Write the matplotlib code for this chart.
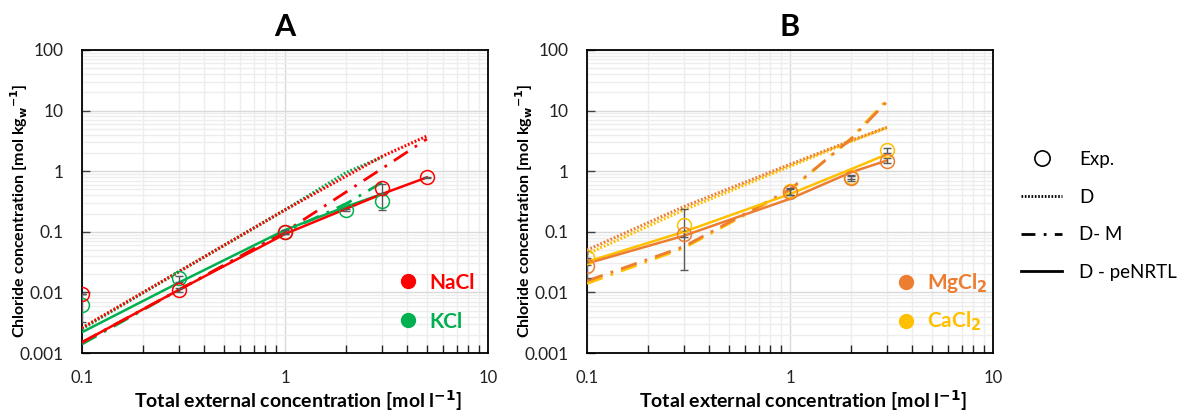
import matplotlib
matplotlib.use("Agg")
import matplotlib.pyplot as plt
from matplotlib.lines import Line2D
from matplotlib.ticker import LogLocator, NullFormatter, FixedLocator, FixedFormatter

plt.rcParams['font.family'] = ['Lato', 'DejaVu Sans']

# ---------------- data ----------------
# Panel A
x_nacl = [0.1, 0.3, 1, 3, 5]
nacl_exp = [0.0093, 0.011, 0.10, 0.52, 0.79]
nacl_err = [0.0, 0.001, 0.008, 0.09, 0.02]
nacl_D = [0.0026, 0.022, 0.23, 1.75, 3.8]
nacl_DM = [0.0015, 0.011, 0.10, 1.1, 3.4]
nacl_pe = [0.0015, 0.011, 0.092, 0.42, 0.79]

x_kcl = [0.1, 0.3, 1, 2, 3]
kcl_exp = [0.0063, 0.017, 0.10, 0.23, 0.32]
kcl_err = [0.003, 0.002, 0.008, 0.01, 0.09]
kcl_D = [0.0025, 0.022, 0.23, 0.95, 1.7]
kcl_DM = [0.0014, 0.011, 0.10, 0.29, 0.65]
kcl_pe = [0.0022, 0.0145, 0.107, 0.26, 0.42]

# Panel B
x_b = [0.1, 0.3, 1, 2, 3]
mg_exp = [0.027, 0.092, 0.45, 0.77, 1.5]
mg_err = [0.01, 0.01, 0.05, 0.07, 0.15]
mg_D = [0.050, 0.26, 1.3, 3.2, 5.3]
mg_DM = [0.0155, 0.057, 0.50, 3.4, 14.0]
mg_pe = [0.030, 0.086, 0.35, 0.96, 1.5]

ca_exp = [0.038, 0.13, 0.47, 0.80, 2.2]
ca_err = [0.01, 0.107, 0.06, 0.07, 0.2]
ca_D = [0.043, 0.23, 1.2, 3.1, 5.2]
ca_DM = [0.014, 0.054, 0.48, 3.5, 15.0]
ca_pe = [0.032, 0.10, 0.42, 1.08, 1.9]

y_ticks = [0.001, 0.01, 0.1, 1, 10, 100]
y_ticklabels = ['0.001', '0.01', '0.1', '1', '10', '100']
x_ticks = [0.1, 1, 10]
x_ticklabels = ['0.1', '1', '10']

RED = '#FF0000'
GREEN = '#00B050'
ORANGE = '#ED7D31'
YELLOW = '#FFC000'
ERRC = '#595959'

fig = plt.figure(figsize=(11.82, 4.11), dpi=100)
axA = fig.add_axes([82/1182, 1-353/411, (488-82)/1182, (353-50)/411])
axB = fig.add_axes([587/1182, 1-353/411, (993-587)/1182, (353-50)/411])


def style_axis(ax, title):
    ax.set_xscale('log')
    ax.set_yscale('log')
    ax.set_xlim(0.1, 10)
    ax.set_ylim(0.001, 100)
    ax.grid(True, which='major', color='#D9D9D9', lw=1.0, zorder=0)
    ax.grid(True, which='minor', color='#EDEDED', lw=1.0, zorder=0)
    ax.set_axisbelow(True)
    ax.yaxis.set_major_locator(FixedLocator(y_ticks))
    ax.yaxis.set_major_formatter(FixedFormatter(y_ticklabels))
    ax.xaxis.set_major_locator(FixedLocator(x_ticks))
    ax.xaxis.set_major_formatter(FixedFormatter(x_ticklabels))
    ax.yaxis.set_minor_locator(LogLocator(base=10, subs=range(2, 10), numticks=20))
    ax.xaxis.set_minor_locator(LogLocator(base=10, subs=range(2, 10), numticks=20))
    ax.yaxis.set_minor_formatter(NullFormatter())
    ax.xaxis.set_minor_formatter(NullFormatter())
    ax.tick_params(axis='y', which='major', direction='in', length=6, width=1,
                   color='#404040', labelsize=12.5, pad=13.5, labelcolor='#222222')
    ax.tick_params(axis='y', which='minor', length=0)
    ax.tick_params(axis='x', which='major', direction='in', length=0,
                   labelsize=12, pad=12, labelcolor='#222222')
    ax.tick_params(axis='x', which='minor', direction='in', length=6, width=1,
                   color='#222222')
    for s in ax.spines.values():
        s.set_color('black')
        s.set_linewidth(1.3)
    ax.set_title(title, fontsize=22, fontweight='bold', pad=10)
    ax.set_xlabel('Total external concentration [mol l$^{\\mathbf{-1}}$]',
                  fontsize=14, fontweight='bold', labelpad=2)
    ax.xaxis.label.set_x(0.532)
    ax.set_ylabel('Chloride concentration [mol kg$_{\\mathbf{w}}$$^{\\mathbf{-1}}$]',
                  fontsize=11.5, fontweight='bold')
    ax.yaxis.set_label_coords(-0.128, 0.47)


def draw_series(ax, x, exp, err, D, DM, pe, color):
    ax.plot(x, D, color=color, lw=2.2, ls=(0, (0.6, 0.6)), zorder=3)
    ax.plot(x, DM, color=color, lw=2.0, ls=(0, (6, 3, 1, 3)), zorder=3)
    ax.plot(x, pe, color=color, lw=1.8, ls='-', zorder=4)
    ax.errorbar(x, exp, yerr=err, fmt='none', ecolor=ERRC, elinewidth=1.0,
                capsize=3, capthick=1.0, zorder=5)
    ax.plot(x, exp, ls='none', marker='o', ms=10, mfc='none', mec=color,
            mew=1.1, zorder=6)


style_axis(axA, 'A')
style_axis(axB, 'B')

draw_series(axA, x_kcl, kcl_exp, kcl_err, kcl_D, kcl_DM, kcl_pe, GREEN)
draw_series(axA, x_nacl, nacl_exp, nacl_err, nacl_D, nacl_DM, nacl_pe, RED)
draw_series(axB, x_b, ca_exp, ca_err, ca_D, ca_DM, ca_pe, YELLOW)
draw_series(axB, x_b, mg_exp, mg_err, mg_D, mg_DM, mg_pe, ORANGE)

# in-panel legends
hA = [Line2D([], [], ls='none', marker='o', ms=10, color=RED),
      Line2D([], [], ls='none', marker='o', ms=10, color=GREEN)]
axA.legend(hA, ['NaCl', 'KCl'], loc='center left', frameon=False,
           bbox_to_anchor=(0.737, 0.168), labelspacing=0.91, handlelength=0.8,
           handletextpad=0.6, prop={'size': 15, 'weight': 'bold'},
           labelcolor=[RED, GREEN])
hB = [Line2D([], [], ls='none', marker='o', ms=10, color=ORANGE),
      Line2D([], [], ls='none', marker='o', ms=10, color=YELLOW)]
axB.legend(hB, ['MgCl$_\\mathbf{2}$', 'CaCl$_\\mathbf{2}$'], loc='center left',
           frameon=False, bbox_to_anchor=(0.719, 0.168), labelspacing=0.72,
           handlelength=0.8, handletextpad=0.6,
           prop={'size': 15, 'weight': 'bold'}, labelcolor=[ORANGE, YELLOW])

# figure legend (model types)
hF = [Line2D([], [], ls='none', marker='o', ms=11, mfc='none', mec='black', mew=1.2),
      Line2D([], [], color='black', lw=2.0, ls=(0, (0.6, 0.6))),
      Line2D([], [], color='black', lw=2.0, ls=(0, (5, 3, 1, 3))),
      Line2D([], [], color='black', lw=2.0, ls='-')]
fig.legend(hF, ['Exp.', 'D', 'D- M', 'D - peNRTL'], loc='upper left',
           bbox_to_anchor=(1004/1182, 1-134/411), frameon=False,
           handlelength=2.2, handletextpad=0.9, labelspacing=1.1,
           prop={'size': 13.5})

fig.savefig('out.png', dpi=100)
